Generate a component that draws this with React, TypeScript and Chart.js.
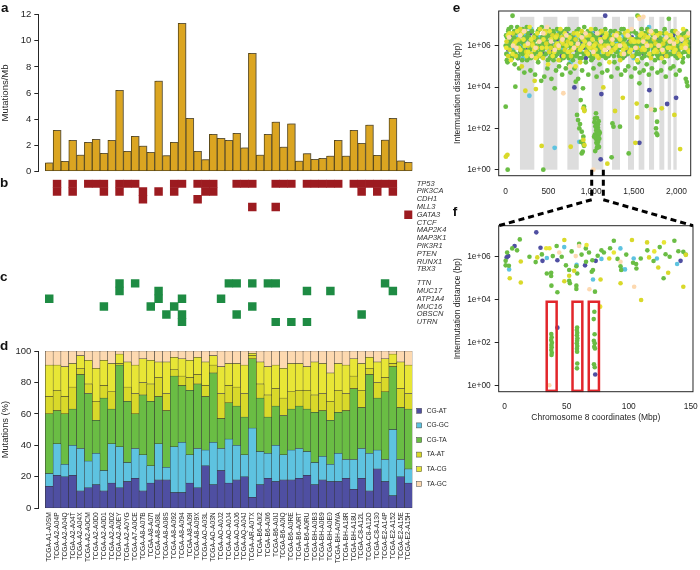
import React, { useEffect, useRef } from "react";
import { Chart, registerables } from "chart.js";

Chart.register(...registerables);

const FONT = "'Liberation Sans', Arial, Helvetica, sans-serif";
const INK = "#262626";

// ---------- shared categories (panels a–d)
const samples = [
  "TCGA-A1-A0SM", "TCGA-A2-A04P", "TCGA-A2-A04Q", "TCGA-A2-A04T", "TCGA-A2-A04X", "TCGA-A2-A0CM",
  "TCGA-A2-A0D0", "TCGA-A2-A0D1", "TCGA-A2-A0D2", "TCGA-A2-A0EY", "TCGA-A2-A0YG", "TCGA-A7-A0CE",
  "TCGA-A8-A07B", "TCGA-A8-A07I", "TCGA-A8-A08L", "TCGA-A8-A08S", "TCGA-A8-A092", "TCGA-A8-A094",
  "TCGA-A8-A09I", "TCGA-A8-A09X", "TCGA-AO-A03L", "TCGA-AO-A03N", "TCGA-AO-A0J2", "TCGA-AO-A0J4",
  "TCGA-AO-A0J6", "TCGA-AQ-A04J", "TCGA-AR-A0TX", "TCGA-B6-A0I2", "TCGA-B6-A0I6", "TCGA-B6-A0IJ",
  "TCGA-B6-A0IQ", "TCGA-B6-A0RE", "TCGA-B6-A0RT", "TCGA-B6-A0RU", "TCGA-BH-A0B3", "TCGA-BH-A0B9",
  "TCGA-BH-A0E0", "TCGA-BH-A0WA", "TCGA-BH-A18R", "TCGA-BH-A18U", "TCGA-C8-A12L", "TCGA-C8-A12O",
  "TCGA-C8-A130", "TCGA-E2-A14P", "TCGA-E2-A152", "TCGA-E2-A15E", "TCGA-E2-A15H",
];

// ---------- panel a
const mutationsPerMb = [
  0.64, 3.14, 0.77, 2.37, 1.25, 2.22, 2.45, 1.38, 2.37, 6.2, 1.53, 2.68, 1.94, 1.46, 6.92, 1.2,
  2.22, 11.33, 4.06, 1.53, 0.89, 2.83, 2.53, 2.37, 2.91, 1.79, 9.04, 1.25, 2.83, 3.78, 1.86, 3.63,
  0.79, 1.35, 0.92, 1.0, 1.17, 2.37, 1.17, 3.14, 2.14, 3.55, 1.23, 2.4, 4.06, 0.81, 0.69,
];
const yTicksA = [0, 2, 4, 6, 8, 10, 12];

// ---------- panel b (sample columns, 1-based, with a mutation)
const genesB = ["TP53", "PIK3CA", "CDH1", "MLL3", "GATA3", "CTCF", "MAP2K4", "MAP3K1", "PIK3R1", "PTEN", "RUNX1", "TBX3"];
const colsTP53 = [2, 4, 6, 7, 8, 10, 11, 12, 17, 18, 20, 21, 22, 25, 26, 27, 30, 31, 32, 34, 35, 36, 37, 38, 40, 41, 42, 43, 44, 45];
const colsPIK3CA = [2, 4, 8, 10, 13, 15, 17, 21, 22, 41, 43, 45];
const colsCDH1 = [13, 20];
const colsMLL3 = [27, 30];
const colsGATA3 = [47];
const cellsB = [colsTP53, colsPIK3CA, colsCDH1, colsMLL3, colsGATA3, [], [], [], [], [], [], []];

// ---------- panel c
const genesC = ["TTN", "MUC17", "ATP1A4", "MUC16", "OBSCN", "UTRN"];
const colsTTN = [10, 12, 24, 25, 27, 29, 30, 44];
const colsMUC17 = [10, 15, 34, 37, 45];
const colsATP1A4 = [1, 15, 18, 23];
const colsMUC16 = [8, 14, 17, 27];
const colsOBSCN = [16, 18, 25, 41];
const colsUTRN = [18, 30, 32, 34];
const cellsC = [colsTTN, colsMUC17, colsATP1A4, colsMUC16, colsOBSCN, colsUTRN];

// ---------- panel d (percent of mutations per class)
const typeLabels = ["CG-AT", "CG-GC", "CG-TA", "TA-AT", "TA-CG", "TA-GC"];
const typeColors = ["#4F4FA2", "#5EC3E0", "#6ABD44", "#D9D92A", "#E8E636", "#FDD9B0"];
const pctCGAT = [14, 21, 20, 21, 11, 13, 15, 11, 16, 13, 17, 19, 11, 16, 18, 18, 10, 10, 16, 13, 27, 15, 24, 16, 18, 20, 7, 15, 19, 17, 18, 18, 19, 21, 15, 18, 17, 17, 19, 12, 19, 11, 25, 17, 8, 20, 16];
const pctCGGC = [8, 20, 8, 19, 27, 17, 20, 13, 25, 26, 12, 19, 23, 11, 23, 8, 29, 32, 18, 25, 10, 27, 14, 28, 22, 14, 44, 21, 16, 23, 16, 19, 19, 15, 14, 15, 11, 18, 12, 19, 19, 24, 12, 14, 42, 11, 9];
const pctCGTA = [38, 21, 32, 23, 47, 43, 21, 46, 22, 52, 39, 22, 38, 41, 30, 36, 45, 36, 41, 41, 34, 44, 19, 23, 25, 24, 44, 34, 23, 25, 25, 26, 27, 27, 32, 29, 28, 26, 31, 45, 26, 50, 33, 43, 40, 33, 38];
const pctTAAT = [11, 13, 11, 14, 4, 6, 12, 8, 11, 1, 9, 13, 8, 11, 12, 11, 4, 6, 8, 6, 7, 5, 16, 11, 12, 15, 2, 9, 14, 11, 11, 11, 10, 12, 11, 11, 12, 14, 11, 8, 11, 4, 10, 9, 2, 12, 10];
const pctTACG = [20, 16, 19, 15, 8, 15, 21, 16, 18, 6, 16, 18, 15, 15, 10, 20, 8, 11, 11, 11, 15, 6, 17, 14, 15, 18, 1.5, 14, 18, 15, 19, 18, 17, 15, 21, 19, 18, 17, 18, 11, 17, 7, 13, 12, 6, 17, 18];
const pctTAGC = [9, 9, 10, 8, 3, 6, 11, 6, 8, 2, 7, 9, 5, 6, 7, 7, 4, 5, 6, 4, 7, 3, 10, 8, 8, 9, 1.5, 7, 10, 9, 11, 8, 8, 10, 7, 8, 14, 8, 9, 5, 8, 4, 7, 5, 2, 7, 9];
const pctSeries = [pctCGAT, pctCGGC, pctCGTA, pctTAAT, pctTACG, pctTAGC];
const yTicksD = [0, 20, 40, 60, 80, 100];

// ---------- panel e : [mutation index, log10 intermutation distance]
const chromBands = [[167, 335], [441, 605], [722, 855], [1007, 1143], [1245, 1338], [1432, 1502], [1557, 1623], [1678, 1737], [1799, 1857], [1897, 1936], [1963, 2002]];
const zoomBand = [1007, 1143];
const bandTopLog = 7.4;
const xTicksE = [0, 500, 1000, 1500, 2000];
const logTicks = [0, 2, 4, 6];

const eCGTA = [
  [0, 6.0], [8, 5.6], [16, 6.4], [21, 5.2], [31, 6.7], [37, 5.9], [47, 6.2], [54, 5.5], [64, 6.9], [70, 6.1], [80, 7.45], [89, 5.7], [95, 6.4], [105, 5.1], [111, 6.6], [122, 5.9], [129, 6.3], [140, 5.4], [146, 6.0], [157, 4.9],
  [164, 6.6], [175, 5.7], [182, 6.2], [193, 5.3], [200, 6.8], [211, 5.8], [218, 4.7], [229, 6.3], [236, 5.6], [247, 6.9], [254, 6.0], [265, 5.4], [272, 6.4], [283, 5.8], [290, 4.8], [301, 6.1], [308, 6.7], [319, 5.5], [326, 6.2], [337, 5.9],
  [344, 4.6], [355, 6.5], [362, 5.7], [373, 6.3], [380, 5.2], [391, 6.8], [398, 6.0], [409, 5.5], [416, 4.3], [427, 6.4], [434, 5.8], [445, 6.1], [452, 4.5], [463, 6.6], [470, 5.6], [481, 6.2], [488, 4.9], [499, 6.0], [506, 6.5], [517, 5.4],
  [524, 6.1], [535, 4.4], [542, 5.9], [553, 6.7], [560, 5.3], [571, 6.3], [578, 5.8], [589, 4.8], [596, 6.4], [607, 5.6], [614, 6.1], [625, 5.0], [632, 6.6], [643, 5.7], [650, 6.2], [661, 4.6], [668, 6.0], [679, 5.4], [686, 6.5], [697, 5.9],
  [704, 4.9], [715, 6.3], [722, 5.6], [733, 6.8], [740, 5.1], [751, 6.1], [758, 4.7], [769, 5.9], [776, 6.4], [787, 5.3], [794, 6.0], [805, 4.9], [812, 6.2], [823, 5.5], [830, 6.7], [841, 5.8], [848, 4.4], [859, 6.1], [866, 5.4], [877, 6.5],
  [884, 5.9], [895, 4.8], [902, 6.3], [913, 5.6], [920, 6.9], [931, 6.0], [938, 5.2], [949, 6.4], [956, 5.7], [967, 4.6], [974, 6.2], [985, 5.5], [992, 6.6], [1003, 5.3], [1010, 6.1], [1021, 5.8], [1028, 4.9], [1039, 6.4], [1046, 5.6], [1057, 6.0],
  [1064, 4.5], [1075, 6.5], [1082, 5.7], [1093, 6.2], [1100, 5.1], [1111, 6.7], [1118, 5.9], [1129, 4.7], [1136, 6.3], [1147, 5.5], [1154, 6.0], [1165, 6.8], [1172, 5.4], [1183, 6.2], [1190, 4.8], [1201, 5.9], [1208, 6.5], [1219, 5.6], [1226, 6.1], [1237, 4.5],
  [1244, 6.4], [1255, 5.8], [1262, 6.0], [1273, 5.2], [1280, 6.7], [1291, 5.7], [1298, 6.3], [1309, 4.9], [1316, 6.0], [1327, 5.5], [1334, 6.6], [1345, 5.9], [1352, 4.6], [1363, 6.2], [1370, 5.4], [1381, 6.8], [1388, 5.8], [1399, 4.8], [1406, 6.4], [1417, 5.6],
  [1424, 6.1], [1435, 5.0], [1442, 6.5], [1453, 5.7], [1460, 6.2], [1471, 4.5], [1478, 6.0], [1489, 5.5], [1496, 6.7], [1507, 5.9], [1514, 4.9], [1525, 6.3], [1532, 5.6], [1543, 7.45], [1550, 5.2], [1561, 6.1], [1568, 4.7], [1579, 5.8], [1586, 6.4], [1597, 5.4],
  [1604, 6.0], [1615, 4.8], [1622, 6.6], [1633, 5.7], [1640, 6.2], [1651, 5.1], [1658, 6.8], [1669, 5.9], [1676, 4.6], [1687, 6.3], [1694, 5.5], [1705, 6.0], [1712, 4.9], [1723, 6.5], [1730, 5.8], [1741, 6.1], [1748, 5.3], [1759, 6.7], [1766, 5.6], [1777, 4.7],
  [1784, 6.2], [1795, 5.4], [1802, 6.4], [1813, 5.9], [1820, 4.8], [1831, 6.0], [1838, 5.7], [1849, 6.6], [1856, 5.2], [1867, 6.1], [1874, 4.5], [1885, 5.8], [1892, 6.3], [1903, 5.5], [1910, 7.3], [1921, 6.0], [1928, 4.9], [1939, 6.4], [1946, 5.6], [1957, 6.2],
  [1964, 5.0], [1975, 6.7], [1982, 5.8], [1993, 4.6], [2000, 6.1], [2011, 5.4], [2018, 6.5], [2029, 5.9], [2036, 4.8], [2047, 6.3], [2054, 5.6], [2065, 6.0], [2072, 5.2], [2083, 6.6], [2090, 5.7], [2101, 6.2], [2108, 4.4], [2119, 5.9], [2126, 6.4], [2137, 5.5], [2144, 6.1],
  [4, 6.5], [13, 5.3], [26, 6.0], [35, 6.8], [50, 5.8], [59, 6.3], [75, 5.4], [84, 6.0], [100, 6.7], [116, 5.6], [126, 6.1], [135, 6.9], [151, 5.5], [160, 6.2], [170, 5.9], [187, 6.5], [197, 5.6], [206, 6.1], [224, 5.7], [241, 6.4],
  [250, 5.3], [260, 6.6], [278, 5.9], [287, 6.2], [296, 5.4], [313, 6.0], [331, 5.6], [340, 6.5], [350, 6.0], [367, 5.4], [377, 6.7], [386, 5.9], [403, 6.2], [412, 5.7], [422, 6.9], [439, 5.5], [449, 6.3], [458, 5.9], [476, 6.4], [494, 5.3],
  [503, 6.8], [512, 6.0], [529, 5.6], [547, 6.3], [557, 5.9], [566, 6.6], [583, 5.5], [593, 6.1], [602, 6.8], [620, 5.8], [628, 6.4], [638, 5.3], [655, 6.0], [665, 6.7], [674, 5.7], [691, 6.2], [700, 5.5], [710, 6.8], [728, 6.0], [737, 5.4],
  [746, 6.5], [763, 5.8], [772, 6.2], [782, 5.5], [799, 6.6], [808, 5.9], [818, 6.3], [836, 5.6], [845, 6.1], [854, 6.8], [871, 5.7], [880, 6.3], [890, 5.4], [907, 6.0], [916, 6.6], [926, 5.6], [943, 6.2], [952, 5.8], [962, 6.7], [979, 5.6],
  [988, 6.3], [998, 5.9], [1015, 6.5], [1024, 5.4], [1034, 6.1], [1051, 6.8], [1060, 5.7], [1069, 6.3], [1087, 5.9], [1096, 6.6], [1105, 5.5], [1123, 6.1], [1132, 5.8], [1141, 6.6], [1159, 5.6], [1168, 6.2], [1177, 5.9], [1195, 6.4], [1204, 5.5], [1213, 6.0],
  [1231, 6.7], [1240, 5.8], [1249, 6.2], [1267, 5.5], [1276, 6.3], [1285, 6.0], [1303, 5.7], [1312, 6.5], [1321, 5.9], [1339, 6.2], [1348, 5.6], [1357, 6.8], [1375, 6.0], [1384, 5.5], [1393, 6.3], [1411, 5.9], [1420, 6.6], [1429, 5.6], [1447, 6.1], [1456, 5.8],
  [1465, 6.7], [1483, 5.9], [1492, 6.3], [1501, 5.5], [1519, 6.0], [1528, 6.6], [1537, 5.8], [1555, 6.4], [1564, 5.6], [1573, 6.2], [1591, 6.8], [1600, 5.7], [1609, 6.3], [1627, 5.5], [1636, 6.0], [1645, 6.6], [1663, 5.8], [1672, 6.3], [1681, 5.5], [1699, 6.1],
  [1708, 6.7], [1717, 5.6], [1735, 6.2], [1744, 5.9], [1753, 6.5], [1771, 6.0], [1780, 5.5], [1789, 6.6], [1807, 5.8], [1816, 6.2], [1825, 5.6], [1843, 6.3], [1852, 6.0], [1861, 6.8], [1879, 5.7], [1888, 6.2], [1897, 5.9], [1915, 6.5], [1924, 5.6], [1933, 6.1],
  [1951, 6.7], [1960, 5.8], [1969, 6.3], [1987, 5.5], [1996, 6.0], [2005, 6.6], [2023, 5.8], [2032, 6.2], [2041, 5.6], [2059, 6.5], [2068, 6.0], [2077, 5.4], [2095, 6.3], [2104, 5.9], [2113, 6.7], [2131, 5.7], [2140, 6.2], [2149, 5.9],
  [0, 3.05], [23, 0], [440, 0], [113, 4.02], [573, 3.94], [820, 4.26], [878, 3.37], [835, 2.65], [847, 2.4], [870, 2.21], [862, 2.0], [890, 1.84], [909, 1.6], [882, 1.35], [909, 1.27], [917, 1.16], [902, 0.87], [890, 0.79], [917, 3.05], [921, 2.89], [905, 3.94],
  [1040, 2.3], [1050, 2.1], [1060, 1.9], [1045, 1.7], [1055, 1.5], [1065, 2.0], [1070, 1.8], [1075, 1.6], [1080, 2.2], [1085, 1.9], [1090, 1.7], [1095, 1.5], [1062, 1.3], [1072, 1.4], [1082, 1.35], [1057, 2.73], [1045, 2.48], [1068, 2.5], [1088, 2.35], [1100, 1.8],
  [1078, 2.05], [1035, 1.6], [1092, 1.1], [1068, 1.05], [1048, 0.9], [1075, 1.2], [1085, 1.55], [1060, 2.15], [1073, 1.84], [1096, 1.76],
  [1240, 0.6], [1250, 2.24], [1262, 2.08], [1338, 2.08], [1440, 0.79], [1565, 4.18], [1651, 3.08], [1745, 2.89], [1772, 2.32], [1760, 2.0], [1765, 1.76], [1775, 1.68], [2120, 4.24], [2128, 4.05],
];
const eTAAT = [
  [10, 6.2], [45, 5.8], [82, 6.6], [118, 5.5], [150, 6.3], [188, 5.0], [222, 6.7], [260, 6.0], [295, 5.6], [330, 6.4], [366, 5.9], [402, 6.8], [438, 5.4], [475, 6.1], [510, 5.7], [548, 6.5], [584, 6.0], [620, 5.3], [656, 6.4], [692, 5.8],
  [728, 6.2], [764, 5.5], [800, 6.6], [836, 6.0], [872, 5.2], [908, 6.3], [944, 5.7], [980, 6.5], [1016, 5.9], [1052, 6.1], [1088, 5.4], [1124, 6.7], [1160, 6.0], [1196, 5.6], [1232, 6.3], [1268, 5.8], [1304, 6.6], [1340, 5.3], [1376, 6.1], [1412, 5.9],
  [1448, 6.4], [1484, 5.5], [1520, 6.2], [1556, 7.4], [1592, 5.8], [1628, 6.5], [1664, 6.0], [1700, 5.4], [1736, 6.3], [1772, 5.7], [1808, 6.6], [1844, 6.1], [1880, 5.5], [1916, 6.2], [1952, 5.9], [1988, 6.7], [2024, 5.6], [2060, 6.0], [2096, 6.4], [2132, 5.8],
  [28, 5.5], [100, 6.0], [170, 6.8], [240, 5.7], [312, 6.1], [384, 5.5], [456, 6.7], [528, 5.9], [600, 6.5], [672, 6.1], [745, 5.7], [818, 6.3], [890, 6.7], [962, 6.0], [1034, 5.6], [1106, 6.0], [1178, 6.5], [1250, 5.8], [1322, 6.0], [1394, 6.6],
  [1466, 6.2], [1538, 5.9], [1610, 6.3], [1682, 6.7], [1754, 6.1], [1826, 5.8], [1898, 6.5], [1970, 6.0], [2042, 6.4], [2114, 6.2],
  [2, 0.63], [20, 0.72], [230, 3.82], [339, 4.3], [353, 3.9], [421, 1.15], [761, 1.11], [1143, 3.98], [1190, 0.29], [1280, 2.84], [1371, 3.48], [1518, 1.3], [1534, 3.2], [1541, 2.53], [1827, 2.97], [1975, 2.65], [2042, 1.0],
  [909, 2.97], [921, 2.84], [909, 1.44], [921, 1.19],
];
const eTACG = [
  [25, 6.5], [62, 5.3], [98, 6.1], [135, 6.7], [172, 5.8], [208, 6.3], [244, 5.5], [280, 6.9], [316, 6.0], [352, 5.4], [388, 6.2], [424, 5.9], [460, 6.6], [496, 5.1], [532, 6.3], [568, 5.7], [604, 6.1], [640, 6.8], [676, 5.5], [712, 6.0],
  [748, 6.4], [784, 5.8], [818, 5.0], [854, 6.5], [890, 5.9], [926, 6.2], [962, 5.6], [998, 6.8], [1034, 6.0], [1070, 5.5], [1106, 6.3], [1142, 5.7], [1178, 6.6], [1214, 5.2], [1250, 6.1], [1286, 5.9], [1322, 6.4], [1358, 5.6], [1394, 6.0], [1430, 6.7],
  [1466, 5.8], [1502, 6.2], [1538, 5.3], [1574, 6.5], [1610, 5.9], [1646, 6.1], [1682, 5.6], [1718, 6.6], [1754, 5.8], [1790, 6.0], [1826, 5.4], [1862, 6.3], [1898, 5.9], [1934, 6.5], [1970, 5.7], [2006, 6.2], [2042, 5.5], [2078, 6.8], [2114, 6.0], [2150, 5.7],
  [7, 5.9], [43, 6.6], [80, 5.6], [116, 6.2], [153, 5.9], [190, 6.6], [226, 6.0], [262, 5.7], [298, 6.3], [334, 5.8], [370, 6.6], [406, 5.6], [442, 6.3], [478, 5.9], [514, 6.7], [550, 5.5], [586, 6.4], [622, 5.9], [658, 6.2], [694, 6.6],
  [730, 5.7], [766, 6.1], [802, 5.9], [838, 6.6], [872, 5.8], [908, 6.0], [944, 6.5], [980, 5.9], [1016, 6.3], [1052, 5.8], [1088, 6.6], [1124, 5.9], [1160, 6.4], [1196, 6.0], [1232, 5.7], [1268, 6.5], [1304, 6.0], [1340, 6.3], [1376, 5.8], [1412, 6.5],
  [1448, 5.7], [1484, 6.3], [1520, 5.9], [1556, 6.2], [1592, 6.6], [1628, 5.8], [1664, 6.4], [1700, 6.0], [1736, 5.7], [1772, 6.5], [1808, 6.0], [1844, 5.7], [1880, 6.6], [1916, 5.9], [1952, 6.3], [1988, 5.8], [2024, 6.4], [2060, 5.9], [2096, 6.1], [2132, 6.5],
];
const eCGGC = [
  [18, 5.6], [66, 6.3], [112, 5.9], [160, 6.6], [205, 5.4], [250, 6.1], [298, 6.8], [345, 5.7], [390, 6.4], [436, 5.9], [484, 6.2], [530, 5.5], [576, 6.0], [622, 6.7], [668, 5.8], [715, 6.3], [760, 5.2], [806, 6.1], [852, 5.8], [898, 6.5],
  [945, 6.0], [990, 5.6], [1036, 6.4], [1082, 5.9], [1128, 6.2], [1174, 5.5], [1220, 6.6], [1266, 6.0], [1312, 5.7], [1358, 6.3], [1404, 5.9], [1450, 6.1], [1496, 5.4], [1540, 6.5], [1586, 6.0], [1632, 5.7], [1678, 6.9], [1724, 5.8], [1770, 6.2], [1816, 5.5],
  [1862, 6.4], [1908, 6.0], [1954, 5.8], [2000, 6.3], [2046, 5.6], [2092, 6.1], [2138, 5.9],
  [42, 6.0], [90, 5.8], [135, 6.4], [182, 6.0], [228, 6.5], [275, 5.9], [320, 6.2], [368, 5.6], [412, 6.0], [460, 6.6], [506, 5.8], [553, 6.3], [600, 5.6], [645, 6.1], [692, 5.9], [738, 6.5], [784, 6.0], [830, 6.4], [876, 5.7], [922, 6.2],
  [968, 5.9], [1012, 6.6], [1058, 6.0], [1104, 5.7], [1150, 6.3], [1196, 6.1], [1242, 5.8], [1290, 6.2], [1335, 5.9], [1380, 6.5], [1428, 6.0], [1474, 6.3], [1518, 5.8], [1563, 6.1], [1610, 6.4], [1655, 5.9], [1700, 6.2], [1748, 6.0], [1793, 6.6], [1840, 5.9],
  [1885, 6.1], [1930, 6.5], [1978, 5.7], [2024, 6.0], [2070, 6.4], [2115, 6.1],
  [277, 3.58], [573, 1.06], [862, 1.35],
];
const eCGAT = [
  [30, 5.8], [88, 6.2], [145, 5.4], [202, 6.5], [258, 5.9], [315, 6.1], [372, 5.6], [428, 6.4], [485, 6.0], [542, 5.7], [598, 6.3], [655, 5.5], [712, 6.6], [768, 6.0], [825, 5.8], [882, 6.2], [938, 5.4], [995, 6.1], [1052, 5.9], [1108, 6.5],
  [1165, 7.45], [1222, 5.7], [1278, 6.3], [1335, 6.0], [1392, 5.5], [1448, 6.2], [1505, 5.8], [1562, 6.4], [1618, 5.6], [1675, 6.1], [1732, 5.9], [1788, 6.3], [1845, 5.5], [1902, 6.0], [1958, 6.5], [2015, 5.7], [2072, 6.2], [2128, 5.9],
  [60, 6.4], [118, 6.0], [175, 5.7], [230, 6.3], [286, 6.6], [342, 5.9], [400, 6.1], [456, 5.6], [512, 6.5], [570, 6.0], [626, 5.9], [684, 6.2], [740, 5.7], [796, 6.4], [852, 6.1], [910, 5.9], [966, 6.3], [1022, 6.6], [1080, 5.6], [1136, 6.0],
  [1194, 6.3], [1250, 5.9], [1306, 6.6], [1362, 6.1], [1420, 5.8], [1476, 6.4], [1532, 6.0], [1590, 5.7], [1646, 6.5], [1704, 6.2], [1760, 5.8], [1816, 6.0], [1872, 6.4], [1930, 5.9], [1986, 6.2], [2042, 6.5], [2100, 6.0],
  [804, 3.98], [1120, 3.66], [1112, 0.5], [1565, 1.3], [1682, 3.85], [1890, 3.18], [1995, 3.48],
];
const eTAGC = [
  [40, 6.4], [125, 5.9], [215, 6.7], [305, 5.5], [395, 6.2], [485, 6.9], [575, 5.8], [665, 6.3], [755, 5.0], [845, 6.1], [935, 6.6], [1025, 5.7], [1115, 6.2], [1205, 5.9], [1295, 6.5], [1385, 5.6], [1475, 6.8], [1565, 7.3], [1655, 6.0], [1745, 6.4],
  [1835, 5.8], [1925, 6.2], [2015, 6.6], [2105, 5.9], [1612, 7.4],
  [85, 6.0], [170, 6.5], [260, 6.1], [350, 5.9], [440, 6.6], [530, 6.2], [620, 6.0], [710, 6.5], [800, 5.9], [890, 6.4], [980, 6.1], [1070, 6.6], [1160, 5.8], [1250, 6.3], [1340, 6.0], [1430, 6.5], [1520, 5.9], [1610, 6.2], [1700, 6.7], [1790, 6.0],
  [1880, 6.4], [1970, 6.1], [2060, 6.3], [2140, 6.6],
  [675, 3.7], [1702, 2.92], [1026, 0],
];

// ---------- panel f : [chr8 position (Mbp), log10 distance]
const xTicksF = [0, 50, 100, 150];
const kataegisBoxes = [[33.9, 41.9], [54.7, 62.6], [67.8, 76.0]];
const kataegisTopLog = 3.9;
const kataegisBottomLog = -0.26;
const fCGTA = [
  [0.8, 5.81], [0.8, 5.6], [3.4, 5.58], [12.2, 6.81], [6.1, 6.39], [30, 6.11], [38.8, 6.03], [34, 5.22], [37.5, 5.25], [37.5, 5.1], [37.7, 4.65], [42.5, 4.34], [41.9, 6.5], [49.4, 5.6], [52, 5.38], [52, 4.88], [52.6, 4.76], [57.8, 5.56], [57.8, 4.65], [57.8, 4.5],
  [58.5, 5.22], [65.6, 5.77], [65.4, 6.39], [70.2, 5.3], [70.7, 5.84], [71.2, 5.38], [72.8, 4.37], [88, 6.75], [93.4, 5.56], [93.9, 5.38], [103.5, 5.72], [106, 5.66], [106.2, 5.45], [109.7, 5.92], [128.1, 5.0], [129.7, 6.12], [136.8, 6.75], [140, 6.26], [144, 6.23], [62, 6.1],
  [75, 6.05], [80, 6.2], [85, 6.4], [25, 5.75], [46, 6.0], [54, 6.25], [68, 6.2], [98, 6.1], [115, 6.3], [120, 5.8], [125, 6.45], [133, 6.0], [146, 6.1], [20, 6.0], [10, 6.3], [2, 6.2], [60, 6.6], [78, 6.3], [91, 5.9],
  [37.6, 2.39], [37.9, 2.24], [37.5, 2.11], [38.1, 1.99], [37.7, 1.88], [37.9, 1.77], [37.6, 1.65], [38.0, 1.52], [37.8, 1.41],
  [58.4, 2.7], [58.2, 2.58], [58.5, 2.45], [58.3, 2.33], [58.6, 2.19], [58.4, 2.08], [58.2, 1.96], [58.5, 1.83], [58.3, 1.71], [58.4, 1.57], [58.5, 1.02], [58.3, 0.79],
  [72.3, 3.43], [71.8, 3.09], [72.5, 2.38], [71.9, 2.08], [72.6, 1.96], [72.2, 1.8], [72.8, 1.72], [72.0, 0.98], [72.6, 0.84],
];
const fCGAT = [[2.9, 6.03], [1.6, 5.97], [25.5, 7.14], [28.9, 6.42], [30.5, 5.81], [42.5, 5.84], [64.8, 5.6], [73.4, 5.81], [141.8, 5.81], [42.5, 2.69], [73, 0.5], [8, 6.5]];
const fCGGC = [[3.6, 5.41], [34, 5.94], [58, 5.62], [71.2, 4.94], [93.3, 6.39], [94.5, 5.41], [97, 5.41], [104, 5.92], [122.7, 5.92], [139, 5.66], [78, 5.9], [48, 6.45]];
const fTAAT = [[4.1, 5.0], [13, 5.78], [13, 4.8], [26.3, 5.97], [48.1, 6.78], [48.1, 4.86], [52, 5.11], [56, 5.35], [77.3, 4.94], [84.3, 5.92], [93.4, 4.76], [110, 3.98], [116.4, 5.97], [123.8, 5.5], [131.8, 5.25], [144, 4.6], [146, 6.09], [102.6, 6.78], [114.8, 6.67]];
const fTACG = [[33.5, 6.4], [36.1, 6.4], [128.4, 6.67], [120.6, 6.25], [77, 3.67], [66, 6.55], [88, 6.2]];
const fTAGC = [[57.3, 6.03], [68.3, 4.48], [93.4, 5.77], [104.4, 4.6], [36, 0.0], [44, 6.2], [60, 6.5]];

// ---------- layout (canvas boxes in page pixels)
const BOX_A = { left: 0, top: 0, w: 440, h: 180 };
const BOX_B = { left: 0, top: 175, w: 475, h: 102 };
const BOX_C = { left: 0, top: 275, w: 475, h: 56 };
const BOX_D = { left: 0, top: 340, w: 475, h: 230 };
const BOX_E = { left: 440, top: 0, w: 260, h: 205 };
const BOX_F = { left: 440, top: 215, w: 260, h: 215 };

const font = (size: number, extra: any = {}) => ({ family: FONT, size, ...extra });
const expLabel = (v: number) => "1e+" + String(Math.round(Math.log10(v))).padStart(2, "0");
const colTicks = (s: any) => { s.ticks = samples.map((_, i) => ({ value: i + 0.5 })); };
const sharedX = { type: "linear", min: -0.9, max: 47, offset: false, afterBuildTicks: colTicks };

const base = (extra: any) => ({
  responsive: false,
  maintainAspectRatio: false,
  animation: false,
  devicePixelRatio: 1,
  events: [],
  plugins: { legend: { display: false }, tooltip: { enabled: false } },
  ...extra,
});

const shadowPlugin = {
  id: "barShadow",
  beforeDatasetsDraw(chart: any) {
    const c = chart.ctx;
    c.save();
    c.shadowColor = "rgba(110,110,110,0.45)";
    c.shadowOffsetX = 1.5;
    c.shadowOffsetY = -1;
    c.shadowBlur = 0.5;
  },
  afterDatasetsDraw(chart: any) { chart.ctx.restore(); },
};

const boxPlugin = {
  id: "frame",
  afterDraw(chart: any) {
    const { ctx, chartArea: a } = chart;
    ctx.save();
    ctx.strokeStyle = INK;
    ctx.lineWidth = 1;
    ctx.strokeRect(a.left, a.top, a.width, a.height);
    ctx.restore();
  },
};

const legendPlugin = {
  id: "typeLegend",
  afterDraw(chart: any) {
    const { ctx, chartArea: a } = chart;
    ctx.save();
    chart.data.datasets.forEach((ds: any, i: number) => {
      const cy = a.top + 59.8 + i * 14.6;
      ctx.fillStyle = ds.backgroundColor;
      ctx.fillRect(a.right + 4.3, cy - 2.5, 5, 5);
      ctx.strokeStyle = "#444";
      ctx.lineWidth = 0.5;
      ctx.strokeRect(a.right + 4.3, cy - 2.5, 5, 5);
      ctx.fillStyle = INK;
      ctx.font = `6.6px ${FONT}`;
      ctx.textBaseline = "middle";
      ctx.textAlign = "left";
      ctx.fillText(ds.label, a.right + 14.3, cy);
    });
    ctx.restore();
  },
};

const geneLabelPlugin = (genes: string[]) => ({
  id: "geneLabels",
  afterDraw(chart: any) {
    const { ctx, chartArea: a, scales } = chart;
    ctx.save();
    ctx.fillStyle = "#333";
    ctx.font = `italic 7.5px ${FONT}`;
    ctx.textBaseline = "middle";
    ctx.textAlign = "left";
    genes.forEach((g, i) => ctx.fillText(g, a.right + 4.3, scales.y.getPixelForValue(i + 0.5)));
    ctx.restore();
  },
});

const bandsPlugin = {
  id: "chromBands",
  beforeDatasetsDraw(chart: any) {
    const { ctx, scales } = chart;
    const yt = scales.y.getPixelForValue(10 ** bandTopLog);
    const yb = scales.y.getPixelForValue(1);
    ctx.save();
    ctx.fillStyle = "#DDDDDD";
    chromBands.forEach(([s, e]) => {
      const x1 = scales.x.getPixelForValue(s);
      const x2 = scales.x.getPixelForValue(e);
      ctx.fillRect(x1, yt, x2 - x1, yb - yt);
    });
    ctx.restore();
  },
};

const kataegisPlugin = {
  id: "kataegis",
  afterDatasetsDraw(chart: any) {
    const { ctx, scales } = chart;
    const yt = scales.y.getPixelForValue(10 ** kataegisTopLog);
    const yb = scales.y.getPixelForValue(10 ** kataegisBottomLog);
    ctx.save();
    ctx.strokeStyle = "#E2262B";
    ctx.lineWidth = 2.5;
    kataegisBoxes.forEach(([s, e]) => {
      const x1 = scales.x.getPixelForValue(s);
      const x2 = scales.x.getPixelForValue(e);
      ctx.strokeRect(x1, yt, x2 - x1, yb - yt);
    });
    ctx.restore();
  },
};

const scatterSets = (groups: number[][][], r: number) =>
  groups.map((pts, i) => ({
    label: typeLabels[i],
    data: pts.map(([x, l]) => ({ x, y: 10 ** l })),
    backgroundColor: typeColors[i],
    borderWidth: 0,
    pointRadius: r,
  }));

function heatConfig(genes: string[], cells: number[][], color: string, padTop: number, padBottom: number, width: number) {
  const data: any[] = [];
  cells.forEach((cols, g) => cols.forEach((c) => data.push({ x: c - 0.5, y: [g, g + 1] })));
  return {
    type: "bar",
    data: { datasets: [{ data, backgroundColor: color, borderWidth: 0, barPercentage: 1, categoryPercentage: 1 }] },
    options: base({
      layout: { padding: { left: 38.3, top: padTop, bottom: padBottom, right: width - 412.4 } },
      scales: {
        x: { ...sharedX, display: false },
        y: { type: "linear", reverse: true, min: 0, max: genes.length, display: false },
      },
    }),
    plugins: [geneLabelPlugin(genes)],
  };
}

function logAxis(title: string) {
  return {
    type: "logarithmic",
    afterBuildTicks: (s: any) => { s.ticks = logTicks.map((e) => ({ value: 10 ** e })); },
    afterFit: (s: any) => { s.width = 58.7; },
    grid: { drawOnChartArea: false, tickLength: 4, color: INK },
    border: { display: false },
    ticks: { padding: 4, color: INK, font: font(8.4), callback: (v: number) => expLabel(v) },
    title: { display: true, text: title, color: INK, font: font(8.5), padding: { top: 12.4, bottom: 0 } },
  };
}

export default function App() {
  const refA = useRef<HTMLCanvasElement>(null);
  const refB = useRef<HTMLCanvasElement>(null);
  const refC = useRef<HTMLCanvasElement>(null);
  const refD = useRef<HTMLCanvasElement>(null);
  const refE = useRef<HTMLCanvasElement>(null);
  const refF = useRef<HTMLCanvasElement>(null);
  const refO = useRef<HTMLCanvasElement>(null);

  useEffect(() => {
    const charts: any[] = [];

    charts.push(new Chart(refA.current as any, {
      type: "bar",
      data: {
        datasets: [{
          data: mutationsPerMb.map((v, i) => ({ x: i + 0.5, y: v })),
          backgroundColor: "#DBA521", borderColor: "#5C4A18", borderWidth: 1, borderSkipped: false,
          barPercentage: 1, categoryPercentage: 1,
        }],
      },
      options: base({
        layout: { padding: { left: 0, right: BOX_A.w - 412.4, top: 14.7, bottom: 8.7 } },
        scales: {
          x: { ...sharedX, display: false },
          y: {
            min: 0, max: 12,
            afterBuildTicks: (s: any) => { s.ticks = yTicksA.map((v) => ({ value: v })); },
            afterFit: (s: any) => { s.width = 38.3; },
            grid: { drawOnChartArea: false, tickLength: 4, color: INK },
            border: { color: INK },
            ticks: { padding: 3, color: INK, font: font(9.5) },
            title: { display: true, text: "Mutations/Mb", color: INK, font: font(9.5), padding: 0 },
          },
        },
      }),
      plugins: [shadowPlugin],
    } as any));

    charts.push(new Chart(refB.current as any, heatConfig(genesB, cellsB, "#9C1B20", 4.7, 3.7, BOX_B.w) as any));
    charts.push(new Chart(refC.current as any, heatConfig(genesC, cellsC, "#1E8B43", 4.3, 4.9, BOX_C.w) as any));

    charts.push(new Chart(refD.current as any, {
      type: "bar",
      data: {
        datasets: pctSeries.map((vals, k) => ({
          label: typeLabels[k],
          data: vals.map((v, i) => ({ x: i + 0.5, y: v })),
          backgroundColor: typeColors[k], borderColor: "#303030", borderWidth: 0.5, borderSkipped: false,
          barPercentage: 1, categoryPercentage: 1,
        })),
      },
      options: base({
        layout: { padding: { left: 0, right: BOX_D.w - 412.4, top: 11, bottom: 0 } },
        scales: {
          x: {
            ...sharedX, stacked: true,
            afterFit: (s: any) => { s.height = 61.7; s.paddingLeft = 0; s.paddingRight = 0; },
            grid: { display: false, offset: false }, border: { display: false },
            ticks: { autoSkip: false, minRotation: 90, maxRotation: 90, padding: -4, color: INK, font: font(6.7), callback: (_v: any, i: number) => samples[i] },
          },
          y: {
            stacked: true, min: 0, max: 100,
            afterBuildTicks: (s: any) => { s.ticks = yTicksD.map((v) => ({ value: v })); },
            afterFit: (s: any) => { s.width = 38.3; },
            grid: { drawOnChartArea: false, tickLength: 4, color: INK },
            border: { color: INK },
            ticks: { padding: 3, color: INK, font: font(9.5) },
            title: { display: true, text: "Mutations (%)", color: INK, font: font(9.3), padding: 0 },
          },
        },
      }),
      plugins: [legendPlugin],
    } as any));

    const chartE = new Chart(refE.current as any, {
      type: "scatter",
      data: { datasets: scatterSets([eCGAT, eCGGC, eCGTA, eTAAT, eTACG, eTAGC], 2.4).reverse() },
      options: base({
        layout: { padding: { left: 0, right: BOX_E.w - 250.7, top: 11, bottom: 0 } },
        scales: {
          x: {
            type: "linear", min: -82, max: 2166,
            afterBuildTicks: (s: any) => { s.ticks = xTicksE.map((v) => ({ value: v })); },
            afterFit: (s: any) => { s.height = BOX_E.h - 175.7; },
            grid: { display: false }, border: { display: false },
            ticks: { padding: 3.4, color: INK, font: font(8.4), callback: (v: number) => v.toLocaleString("en-US") },
          },
          y: { ...logAxis("Intermutation distance (bp)"), min: 10 ** -0.29, max: 10 ** 7.68 },
        },
      }),
      plugins: [bandsPlugin, boxPlugin],
    } as any);
    charts.push(chartE);

    const chartF = new Chart(refF.current as any, {
      type: "scatter",
      data: { datasets: scatterSets([fCGAT, fCGGC, fCGTA, fTAAT, fTACG, fTAGC], 2.3).reverse() },
      options: base({
        layout: { padding: { left: 0, right: BOX_F.w - 255, top: 10.7, bottom: 0 } },
        scales: {
          x: {
            type: "linear", min: -4.8, max: 151.8,
            afterBuildTicks: (s: any) => { s.ticks = xTicksF.map((v) => ({ value: v })); },
            afterFit: (s: any) => { s.height = BOX_F.h - 176.7; },
            grid: { display: false }, border: { display: false },
            ticks: { padding: 2.2, color: INK, font: font(8.4) },
            title: { display: true, text: "Chromosome 8 coordinates (Mbp)", color: INK, font: font(8.5), padding: { top: 0, bottom: 6.9 } },
          },
          y: { ...logAxis("Intermutation distance (bp)"), min: 10 ** -0.3, max: 10 ** 7.45 },
        },
      }),
      plugins: [kataegisPlugin, boxPlugin],
    } as any);
    charts.push(chartF);

    // dashed zoom connector between e and f
    const ov = refO.current as HTMLCanvasElement;
    const ctx = ov.getContext("2d") as CanvasRenderingContext2D;
    ctx.clearRect(0, 0, ov.width, ov.height);
    const ex = (v: number) => BOX_E.left + chartE.scales.x.getPixelForValue(v);
    const yStart = BOX_E.top + chartE.scales.y.getPixelForValue(1);
    const yKnee = BOX_E.top + chartE.chartArea.bottom + 24;
    const fa = chartF.chartArea;
    ctx.save();
    ctx.strokeStyle = "#000";
    ctx.lineWidth = 3;
    ctx.setLineDash([6, 4]);
    ctx.beginPath();
    ctx.moveTo(ex(zoomBand[0]), yStart);
    ctx.lineTo(ex(zoomBand[0]), yKnee);
    ctx.lineTo(BOX_F.left + fa.left, BOX_F.top + fa.top);
    ctx.stroke();
    ctx.beginPath();
    ctx.moveTo(ex(zoomBand[1]), yStart);
    ctx.lineTo(ex(zoomBand[1]), yKnee);
    ctx.lineTo(BOX_F.left + fa.right, BOX_F.top + fa.top);
    ctx.stroke();
    ctx.restore();

    return () => { charts.forEach((c) => c.destroy()); };
  }, []);

  const cv = (ref: any, b: any, z = 1) => (
    <canvas ref={ref} width={b.w} height={b.h}
      style={{ position: "absolute", left: b.left, top: b.top, width: b.w, height: b.h, zIndex: z }} />
  );
  const letter = (t: string, x: number, baseline: number) => (
    <div style={{ position: "absolute", left: x, top: baseline - 11.4, fontFamily: FONT, fontWeight: "bold", fontSize: 13.5, lineHeight: "13.5px", color: "#111", zIndex: 5 }}>{t}</div>
  );

  return (
    <div style={{ position: "absolute", left: 0, top: 0, width: 700, height: 570, background: "#fff", overflow: "hidden" }}>
      {cv(refA, BOX_A)}
      {cv(refB, BOX_B)}
      {cv(refC, BOX_C)}
      {cv(refD, BOX_D)}
      {cv(refE, BOX_E)}
      {cv(refF, BOX_F)}
      <canvas ref={refO} width={700} height={570} style={{ position: "absolute", left: 0, top: 0, width: 700, height: 570, zIndex: 4, pointerEvents: "none" }} />
      {letter("a", 1, 12)}
      {letter("b", 0, 187.7)}
      {letter("c", 0, 281)}
      {letter("d", 0, 350.7)}
      {letter("e", 452.7, 12)}
      {letter("f", 452.7, 216.5)}
    </div>
  );
}
